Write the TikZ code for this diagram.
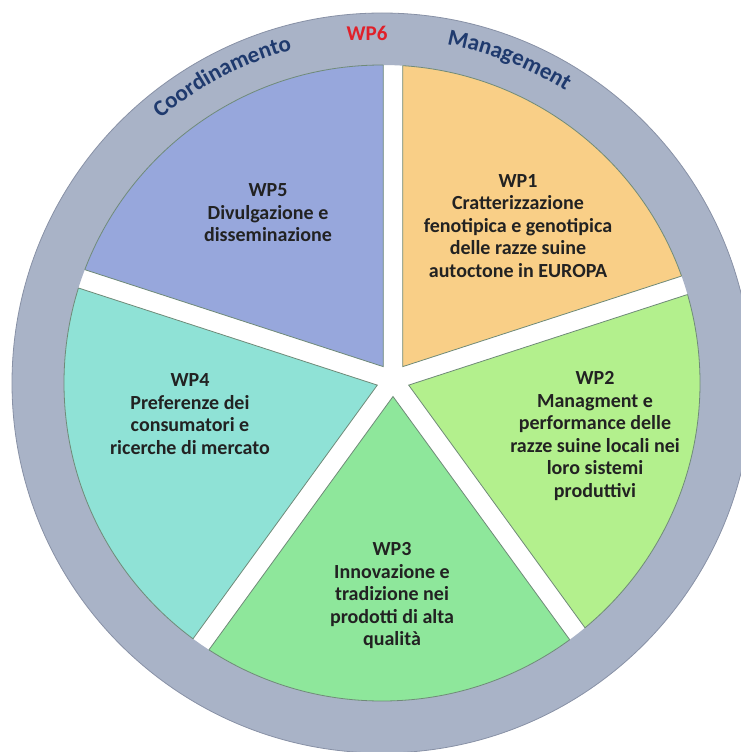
\documentclass[tikz,border=0pt]{standalone}
\usepackage{fontspec}
\setmainfont{Carlito}
\usetikzlibrary{calc,decorations.text}
\definecolor{ringc}{HTML}{A9B3C7}
\definecolor{ringline}{HTML}{8891A6}
\definecolor{wpone}{HTML}{F9CF87}
\definecolor{wptwo}{HTML}{B3F08D}
\definecolor{wpthree}{HTML}{8EE79B}
\definecolor{wpfour}{HTML}{8FE2D6}
\definecolor{wpfive}{HTML}{97A7DC}
\definecolor{navy}{HTML}{1F3A6E}
\definecolor{wpred}{HTML}{E0202A}
\definecolor{slicetxt}{HTML}{222222}
\definecolor{sliceline}{HTML}{6F8A78}
\begin{document}
\begin{tikzpicture}[x=1pt,y=1pt,
  slicetext/.style={align=center, inner sep=0pt, text=slicetxt, font=\fontsize{20}{22.5}\selectfont\bfseries},
  edgeline/.style={draw=sliceline, line width=0.8pt}]
\useasboundingbox (0,0) rectangle (741,-752);
\clip (0,0) rectangle (741,-752);
\fill[white] (0,0) rectangle (741,-752);
\coordinate (O) at (382,-383);
\coordinate (P) at (393,-380);
% ring
\fill[ringc, even odd rule] (O) circle (370) (O) circle (318);
\draw[ringline, line width=0.8pt] (O) circle (370);
% slices
\foreach \a/\col [count=\i] in {18/wpone, -54/wptwo, -126/wpthree, -198/wpfour, 90/wpfive} {
  \pgfmathsetmacro{\b}{\a+36}
  \pgfmathsetmacro{\c}{\a+72}
  \path (P) ++(\b:16.5) coordinate (A\i);
  \begin{scope}
    \clip (A\i) -- ($(A\i)+(\a:900)$) -- ($(A\i)+(\c:900)$) -- cycle;
    \fill[\col] (O) circle (318);
    \draw[edgeline] (O) circle (318);
  \end{scope}
  \begin{scope}
    \clip (O) circle (318);
    \draw[edgeline] ($(A\i)+(\a:900)$) -- (A\i) -- ($(A\i)+(\c:900)$);
  \end{scope}
}
% ring texts
\path[decorate, decoration={text along path, text align=center,
  text={|\fontsize{23}{23}\selectfont\bfseries\color{navy}|Coordinamento}}]
  (O) ++(140:345) arc[start angle=140, end angle=95, radius=345];
\path[decorate, decoration={text along path, text align=center,
  text={|\fontsize{23}{23}\selectfont\bfseries\color{navy}|Management}}]
  (O) ++(91:345) arc[start angle=91, end angle=46, radius=345];
\node[font=\fontsize{21}{21}\selectfont\bfseries, text=wpred, inner sep=0pt] (wp6) at (367,-33) {WP6};
% slice texts
\node[slicetext] (wp1) at (518,-226) {WP1\\Cratterizzazione\\fenotipica e genotipica\\delle razze suine\\autoctone in EUROPA};
\node[slicetext] (wp2) at (595,-436) {WP2\\Managment e\\performance delle\\razze suine locali nei\\loro sistemi\\produttivi};
\node[slicetext] (wp3) at (392,-596) {WP3\\Innovazione e\\tradizione nei\\prodotti di alta\\qualità};
\node[slicetext] (wp4) at (190,-414) {WP4\\Preferenze dei\\consumatori e\\ricerche di mercato};
\node[slicetext] (wp5) at (268,-213) {WP5\\Divulgazione e\\disseminazione};
\end{tikzpicture}
\end{document}
